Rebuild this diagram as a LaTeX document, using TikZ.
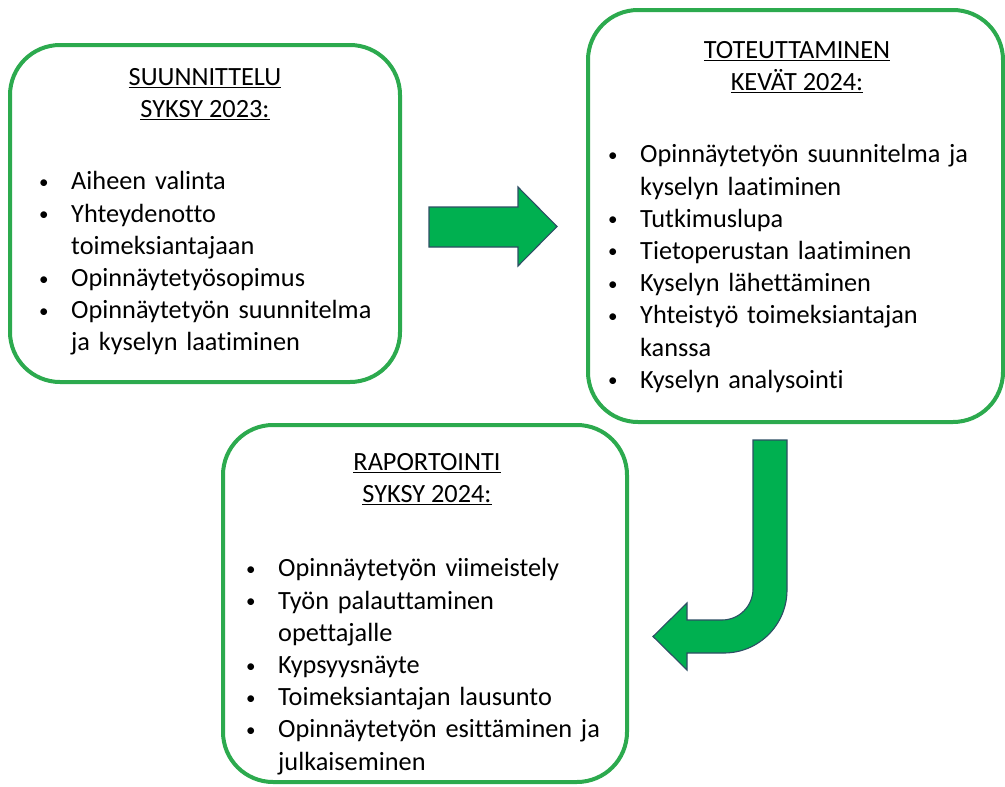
\documentclass[tikz,border=0pt]{standalone}
\usepackage{fontspec}
\setmainfont{Carlito}[Ligatures=NoCommon]
\definecolor{boxgreen}{RGB}{44,170,78}
\definecolor{arrowgreen}{RGB}{0,176,80}
\definecolor{arrowline}{RGB}{45,78,100}
\newcommand{\phasefont}{\fontsize{26.3}{32.2}\selectfont}
\newcommand{\dotmark}{\makebox[33pt][l]{\hspace{1pt}\raisebox{1.5pt}{\fontsize{19}{19}\selectfont\textbullet}}}
\newcommand{\itm}[1]{\par\noindent\hangindent=33pt\hangafter=1\strut\dotmark#1\strut\par}

\begin{document}
\begin{tikzpicture}[x=1pt,y=-1pt,
    phase/.style={draw=boxgreen, line width=4pt, rounded corners=50pt, fill=white, inner sep=0pt},
    head/.style={align=center, anchor=north, inner sep=0pt, font=\phasefont},
    items/.style={anchor=north west, inner sep=0pt, text width=420pt, font=\phasefont},
    blockarrow/.style={fill=arrowgreen, draw=arrowline, line width=1.1pt, line join=miter}]
	\useasboundingbox (0,0) rectangle (1005,787);
	% the three phases
	\node[phase, minimum width=390pt, minimum height=337pt] (plan) at (205,213.5) {};
	\node[phase, minimum width=415pt, minimum height=412pt] (work) at (795.5,216) {};
	\node[phase, minimum width=404pt, minimum height=357pt] (report) at (425,603.5) {};
	\node[head] (planhead) at (205,62.5) {\strut\underline{SUUNNITTELU}\\\strut\underline{SYKSY 2023:}};
	\node[head] (workhead) at (797,35.5) {\strut\underline{TOTEUTTAMINEN}\\\strut\underline{KEVÄT 2024:}};
	\node[head] (reporthead) at (427,447.5) {\strut\underline{RAPORTOINTI}\\\strut\underline{SYKSY 2024:}};
	\node[items] (planlist) at (38,157.5) {\itm{Aiheen valinta}\itm{Yhteydenotto\newline toimeksiantajaan}\itm{Opinnäytetyösopimus}\itm{Opinnäytetyön suunnitelma\newline ja kyselyn laatiminen}};
	\node[items] (worklist) at (607,130.5) {\itm{Opinnäytetyön suunnitelma ja\newline kyselyn laatiminen}\itm{Tutkimuslupa}\itm{Tietoperustan laatiminen}\itm{Kyselyn lähettäminen}\itm{Yhteistyö toimeksiantajan\newline kanssa}\itm{Kyselyn analysointi}};
	\node[items] (reportlist) at (245,544.5) {\itm{Opinnäytetyön viimeistely}\itm{Työn palauttaminen\newline opettajalle}\itm{Kypsyysnäyte}\itm{Toimeksiantajan lausunto}\itm{Opinnäytetyön esittäminen ja\newline julkaiseminen}};
	% block arrows
	\draw[blockarrow] (429,207) -- (518,207) -- (518,187) -- (557,226.5) -- (518,266) -- (518,247) -- (429,247) -- cycle;
	\draw[blockarrow] (753,440) -- (787,440) -- (787,590) .. controls (787,624.8) and (758.8,653) .. (724,653)
		-- (687,653) -- (687,670) -- (653,636.5) -- (687,603) -- (687,620) -- (722,620)
		.. controls (739.1,620) and (753,606.1) .. (753,589) -- cycle;
\end{tikzpicture}
\end{document}
